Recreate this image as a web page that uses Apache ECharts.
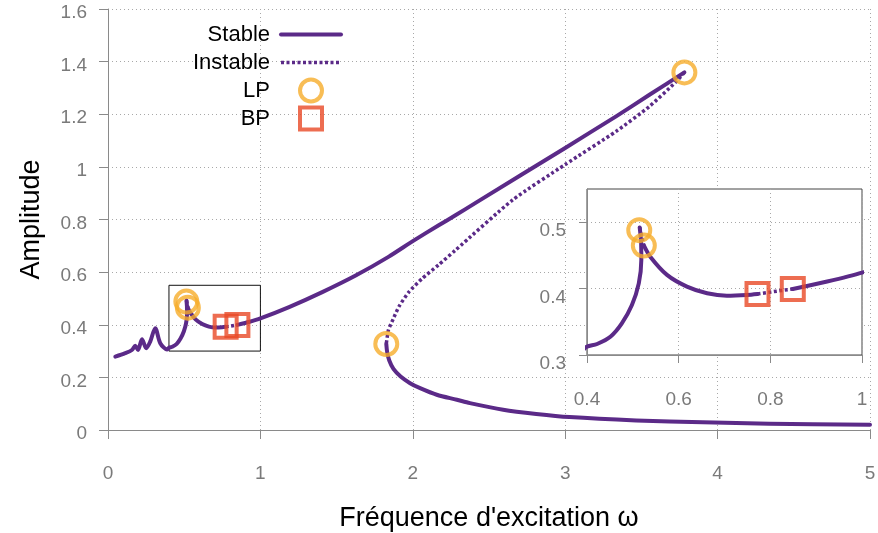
<!DOCTYPE html>
<html><head><meta charset="utf-8">
<script src="https://cdn.jsdelivr.net/npm/echarts@6/dist/echarts.min.js"></script>
<style>html,body{margin:0;padding:0;background:#fff}#c{width:878px;height:533px}</style>
</head><body><div id="c"></div>
<script>
// ---------------- data ----------------
const xTicks = [0, 1, 2, 3, 4, 5];
const yTicks = [0, 0.2, 0.4, 0.6, 0.8, 1, 1.2, 1.4, 1.6];
const insetXTicks = [0.4, 0.6, 0.8, 1];
const insetYTicks = [0.3, 0.4, 0.5];
const insetXRange = [0.4, 1.0];
const insetYRange = [0.3, 0.55];

// stable branch: low frequencies up to first limit point
const stable1W = [0.048, 0.113, 0.157, 0.179, 0.197, 0.223, 0.251, 0.277, 0.31, 0.343, 0.387, 0.4, 0.422, 0.451, 0.476, 0.498, 0.513, 0.5185, 0.518, 0.515];
const stable1A = [0.279, 0.292, 0.304, 0.320, 0.304, 0.345, 0.311, 0.336, 0.387, 0.330, 0.306, 0.3126, 0.3166, 0.3276, 0.3477, 0.3754, 0.408, 0.443, 0.47, 0.492];
// short unstable piece between the two LP near 0.52
const unstable1W = [0.515, 0.524];
const unstable1A = [0.492, 0.465];
// stable: from LP down to first BP
const stable2W = [0.524, 0.538, 0.5745, 0.618, 0.662, 0.705, 0.749, 0.772];
const stable2A = [0.465, 0.448, 0.4206, 0.403, 0.393, 0.3894, 0.3905, 0.392];
// unstable between the two BP
const unstable2W = [0.772, 0.849];
const unstable2A = [0.392, 0.3995];
// stable upper branch up to the LP at 3.78
const stable3W = [0.849, 0.924, 1.0, 1.188, 1.406, 1.625, 1.843, 2.0, 2.17, 2.277, 2.42, 3.0, 3.334, 3.553, 3.782];
const stable3A = [0.3995, 0.4106, 0.4241, 0.467, 0.524, 0.587, 0.659, 0.718, 0.778, 0.815, 0.866, 1.072, 1.192, 1.274, 1.359];
// unstable middle branch going back to the LP at 1.83
const unstable3W = [3.782, 3.73, 3.553, 3.334, 3.0, 2.657, 2.277, 2.17, 2.06, 1.975, 1.91, 1.87, 1.84, 1.826];
const unstable3A = [1.359, 1.325, 1.23, 1.135, 1.009, 0.875, 0.682, 0.628, 0.575, 0.525, 0.47, 0.42, 0.38, 0.327];
// stable lower branch
const stable4W = [1.826, 1.832, 1.845, 1.873, 1.92, 1.982, 2.048, 2.157, 2.289, 2.375, 2.593, 2.81, 3.028, 3.466, 3.903, 4.339, 5.0];
const stable4A = [0.327, 0.295, 0.265, 0.232, 0.203, 0.178, 0.159, 0.134, 0.115, 0.102, 0.077, 0.061, 0.049, 0.0365, 0.029, 0.024, 0.020];
// bifurcation points
const lpW = [0.514, 0.524, 1.826, 3.782];
const lpA = [0.488, 0.465, 0.327, 1.359];
const bpW = [0.772, 0.849];
const bpA = [0.392, 0.3995];

// ---------------- styling ----------------
const PURPLE = '#5b2a88';
const ORANGE = '#f6ac2a';
const RED = '#e94826';
const FONT = '"Liberation Sans", Arial, Helvetica, sans-serif';
const GRAY = '#7a7a7a';
const AXIS = '#8a8a8a';

const pairs = (W, A) => W.map((w, i) => [w, A[i]]);

function lineSeries(name, W, A, dashed, smooth, gi) {
  return {
    type: 'line', name, xAxisIndex: gi, yAxisIndex: gi, color: PURPLE,
    data: pairs(W, A), symbol: 'none', showSymbol: false, smooth,
    clip: true, silent: true, animation: false, z: gi ? 12 : 2,
    lineStyle: dashed
      ? { color: PURPLE, width: 3.5, type: [3, 2.5], cap: 'butt' }
      : { color: PURPLE, width: 4, type: 'solid', cap: 'round', join: 'round' }
  };
}
function markSeries(name, W, A, gi) {
  const isLP = name === 'LP';
  return {
    type: 'scatter', name, xAxisIndex: gi, yAxisIndex: gi,
    data: pairs(W, A), symbol: isLP ? 'circle' : 'rect', symbolSize: 22,
    clip: true, silent: true, animation: false, z: gi ? 13 : 5,
    itemStyle: { color: 'rgba(0,0,0,0)', borderColor: isLP ? ORANGE : RED, borderWidth: 4 }
  };
}

const segs = [
  ['Stable', stable1W, stable1A, false, 0.3],
  ['Instable', unstable1W, unstable1A, true, false],
  ['Stable', stable2W, stable2A, false, 0.3],
  ['Instable', unstable2W, unstable2A, true, false],
  ['Stable', stable3W, stable3A, false, 0.15],
  ['Instable', unstable3W, unstable3A, true, 0.2],
  ['Stable', stable4W, stable4A, false, 0.3]
];

const series = [];
[0, 1].forEach(gi => {
  segs.forEach(s => series.push(lineSeries(s[0], s[1], s[2], s[3], s[4], gi)));
  series.push(markSeries('LP', lpW, lpA, gi));
  series.push(markSeries('BP', bpW, bpA, gi));
});
// rectangle on the main plot marking the zoomed region
series[4].markArea = {
  silent: true,
  itemStyle: { color: 'rgba(0,0,0,0)', borderColor: '#111', borderWidth: 1 },
  data: [[{ coord: [insetXRange[0], insetYRange[0]] }, { coord: [insetXRange[1], insetYRange[1]] }]]
};

const splitLine = { show: true, lineStyle: { color: '#a8a8a8', width: 1, type: [1, 3] } };
const labelStyle = { fontFamily: FONT, fontSize: 19, color: GRAY };
const fmtNum = v => String(parseFloat(Number(v).toFixed(2)));

const option = {
  backgroundColor: '#fff',
  animation: false,
  textStyle: { fontFamily: FONT },
  grid: [
    { left: 108, top: 9, width: 762, height: 421, outerBoundsMode: 'none', containLabel: false },
    { left: 587, top: 189, width: 275, height: 166, outerBoundsMode: 'none', containLabel: false,
      show: true, backgroundColor: '#fff', borderColor: '#444', borderWidth: 1, z: 10 }
  ],
  xAxis: [
    { type: 'value', gridIndex: 0, min: xTicks[0], max: xTicks[xTicks.length - 1], interval: xTicks[1] - xTicks[0],
      name: "Fréquence d'excitation ω", nameLocation: 'middle', nameGap: 75,
      nameTextStyle: { fontFamily: FONT, fontSize: 27, color: '#000' },
      axisLine: { show: true, onZero: false, lineStyle: { color: AXIS, width: 1 } },
      axisTick: { show: true, inside: false, length: 9, lineStyle: { color: AXIS } },
      axisLabel: Object.assign({ margin: 34, formatter: fmtNum }, labelStyle),
      splitLine },
    { type: 'value', gridIndex: 1, min: insetXRange[0], max: insetXRange[1], interval: 0.2, z: 11,
      axisLine: { show: true, onZero: false, lineStyle: { color: AXIS, width: 1 } },
      axisTick: { show: true, inside: false, length: 8, lineStyle: { color: AXIS }, customValues: insetXTicks },
      axisLabel: Object.assign({ margin: 35, customValues: insetXTicks, formatter: fmtNum }, labelStyle),
      splitLine }
  ],
  yAxis: [
    { type: 'value', gridIndex: 0, min: yTicks[0], max: yTicks[yTicks.length - 1], interval: yTicks[1] - yTicks[0],
      name: 'Amplitude', nameLocation: 'middle', nameRotate: 90, nameGap: 63,
      nameTextStyle: { fontFamily: FONT, fontSize: 27, color: '#000' },
      axisLine: { show: true, onZero: false, lineStyle: { color: AXIS, width: 1 } },
      axisTick: { show: true, inside: false, length: 9, lineStyle: { color: AXIS } },
      axisLabel: Object.assign({ margin: 21, formatter: v => '{p|' + fmtNum(v) + '}',
        rich: { p: { fontFamily: FONT, fontSize: 19, color: GRAY, padding: [8, 0, 0, 0] } } }, labelStyle),
      splitLine },
    { type: 'value', gridIndex: 1, min: insetYRange[0], max: insetYRange[1], interval: 0.1, z: 11,
      axisLine: { show: true, onZero: false, lineStyle: { color: AXIS, width: 1 } },
      axisTick: { show: true, inside: false, length: 8, lineStyle: { color: AXIS }, customValues: insetYTicks },
      axisLabel: Object.assign({ margin: 21, customValues: insetYTicks, formatter: v => '{p|' + fmtNum(v) + '}',
        rich: { p: { fontFamily: FONT, fontSize: 19, color: GRAY, padding: [18, 0, 0, 0] } } }, labelStyle),
      splitLine }
  ],
  legend: {
    orient: 'vertical', right: 878 - 343, top: 20.5, padding: 0,
    itemWidth: 60, itemHeight: 22, itemGap: 0, align: 'right',
    selectedMode: false,
    formatter: n => '{t|' + n + '}',
    textStyle: { fontFamily: FONT, fontSize: 22, color: '#000', lineHeight: 28,
      rich: { t: { fontFamily: FONT, fontSize: 22, color: '#000', lineHeight: 28, padding: [0, 6, 0, 0] } } },
    data: [
      { name: 'Stable', lineStyle: { width: 4, color: PURPLE, type: 'solid' },
        itemStyle: { color: 'rgba(0,0,0,0)', borderColor: 'rgba(0,0,0,0)', borderWidth: 0, opacity: 0 } },
      { name: 'Instable', lineStyle: { width: 3.5, color: PURPLE, type: [3, 2.5] },
        itemStyle: { color: 'rgba(0,0,0,0)', borderColor: 'rgba(0,0,0,0)', borderWidth: 0, opacity: 0 } },
      { name: 'LP', icon: 'circle', itemStyle: { color: 'rgba(0,0,0,0)', borderColor: ORANGE, borderWidth: 4 } },
      { name: 'BP', icon: 'path://M0,0L10,0L10,10L0,10Z', itemStyle: { color: 'rgba(0,0,0,0)', borderColor: RED, borderWidth: 4 } }
    ]
  },
  series
};

const chart = echarts.init(document.getElementById('c'), null, { renderer: 'canvas' });
chart.setOption(option);
</script>
</body></html>
